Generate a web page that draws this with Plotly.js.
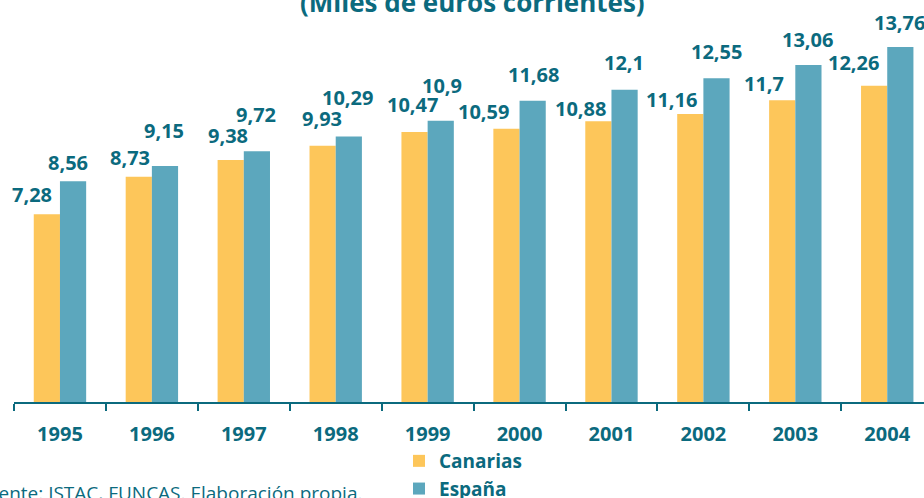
<!DOCTYPE html>
<html><head><meta charset="utf-8">
<script src="https://cdn.plot.ly/plotly-3.0.1.min.js"></script>
<style>body{margin:0;padding:0;background:#fff}#chart{width:924px;height:498px}</style>
</head><body><div id="chart"></div>
<script>
const years = ['1995','1996','1997','1998','1999','2000','2001','2002','2003','2004'];
const canarias = [7.28, 8.73, 9.38, 9.93, 10.47, 10.59, 10.88, 11.16, 11.7, 12.26];
const espana = [8.56, 9.15, 9.72, 10.29, 10.9, 11.68, 12.1, 12.55, 13.06, 13.76];
const canariasLabels = ['7,28','8,73','9,38','9,93','10,47','10,59','10,88','11,16','11,7','12,26'];
const espanaLabels = ['8,56','9,15','9,72','10,29','10,9','11,68','12,1','12,55','13,06','13,76'];

// label placement offsets (pixels, layout only)
const canDx = [-28,-22,-16,-14,-15,-36,-31,-32,-31,-34];
const canDy = [20,19,25,27,27,17,13,15,17,23];
const espDx = [8,12,12,12,14,14,13,13,12,12];
const espDy = [19,35,37,39,35,26,27,27,26,25];

const teal = '#0b6a7e';
const fontFam = '"Open Sans", "Noto Sans", sans-serif';

const traces = [
  {type:'bar', name:'Canarias', x:years, y:canarias, marker:{color:'#fdc65a'}, hoverinfo:'none'},
  {type:'bar', name:'España', x:years, y:espana, marker:{color:'#5ca7bd'}, hoverinfo:'none'}
];

const ann = [];
years.forEach((yr,i)=>{
  ann.push({x:i, y:canarias[i], xref:'x', yref:'y', text:canariasLabels[i], showarrow:false,
    xshift:canDx[i], yshift:canDy[i], font:{size:20, color:teal, family:fontFam, weight:'bold'}});
  ann.push({x:i, y:espana[i], xref:'x', yref:'y', text:espanaLabels[i], showarrow:false,
    xshift:espDx[i], yshift:espDy[i], font:{size:20, color:teal, family:fontFam, weight:'bold'}});
});
ann.push({xref:'paper', yref:'paper', x:(472-14)/910, y:(402-2)/372, text:'(Miles de euros corrientes)', showarrow:false,
  xanchor:'center', yanchor:'middle', font:{size:26, color:teal, family:fontFam, weight:'bold'}});
ann.push({xref:'paper', yref:'paper', x:(364-14)/910, y:(402-493)/372, text:'Fuente: ISTAC, FUNCAS. Elaboración propia.', showarrow:false,
  xanchor:'right', yanchor:'middle', font:{size:19, color:teal, family:fontFam}});

const layout = {
  width:924, height:498,
  margin:{l:14, r:0, t:30, b:96, autoexpand:false},
  paper_bgcolor:'#fff', plot_bgcolor:'#fff',
  barmode:'group', bargap:0.43, bargroupgap:0,
  showlegend:true,
  legend:{x:(399-14)/910, y:(402-442)/372, xanchor:'left', yanchor:'top', orientation:'v',
    font:{size:19, color:teal, family:fontFam, weight:'bold'}, tracegroupgap:0, itemwidth:30, bgcolor:'rgba(0,0,0,0)'},
  xaxis:{type:'category', range:[-0.5, 9.4], showline:true, linecolor:teal, linewidth:2,
    ticks:'outside', tickson:'boundaries', ticklen:7, tickwidth:2, tickcolor:teal, ticklabelstandoff:13,
    tickfont:{size:20, color:teal, family:fontFam, weight:'bold'}, showgrid:false, zeroline:false, fixedrange:true},
  yaxis:{range:[0, 14.42], visible:false, showgrid:false, zeroline:false, fixedrange:true},
  annotations:ann
};
Plotly.newPlot('chart', traces, layout, {staticPlot:true});
</script></body></html>
